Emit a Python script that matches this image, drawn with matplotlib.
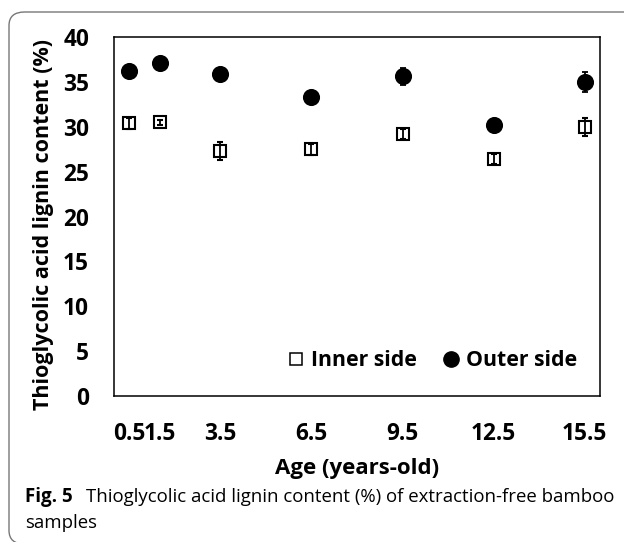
import numpy as np
import matplotlib.pyplot as plt
from matplotlib.patches import FancyBboxPatch
from matplotlib.lines import Line2D

# data
age = [0.5, 1.5, 3.5, 6.5, 9.5, 12.5, 15.5]
tick_labels = ['0.5', '1.5', '3.5', '6.5', '9.5', '12.5', '15.5']
inner = [30.4, 30.5, 27.3, 27.5, 29.2, 26.4, 30.0]
inner_err = [0.6, 0.3, 1.0, 0.6, 0.6, 0.6, 1.0]
outer = [36.2, 37.1, 35.9, 33.3, 35.6, 30.2, 35.0]
outer_err = [0.4, 0.6, 0.4, 0.4, 1.0, 0.4, 1.1]

plt.rcParams['font.family'] = ['Open Sans', 'DejaVu Sans']

W, H = 624, 542
fig = plt.figure(figsize=(W / 100, H / 100), dpi=100)

# rounded frame round the figure + caption
frame = FancyBboxPatch((9 / W, -2 / H), 1.2, (H - 10) / H,
                       boxstyle='round,pad=0,rounding_size=0.025',
                       transform=fig.transFigure, fill=False, edgecolor='#777777', lw=1.0)
fig.patches.append(frame)

ax = fig.add_axes([114 / W, 1 - 396 / H, 486 / W, 359 / H])

# hollow squares: the error bar shows through, as in the original
ax.errorbar(age, inner, yerr=inner_err, fmt='s', ms=8.5, mfc='none', mec='black', mew=1.5,
            ecolor='black', elinewidth=1.3, capsize=2.5, capthick=1.3)
ax.errorbar(age, outer, yerr=outer_err, fmt='o', ms=11.3, color='black',
            ecolor='black', elinewidth=1.3, capsize=2.5, capthick=1.3)

ax.set_xlim(0, 16)
ax.set_ylim(0, 40)
ax.set_xticks(age)
ax.set_xticklabels(tick_labels)
ax.set_yticks(np.arange(0, 41, 5))
ax.tick_params(length=0, labelsize=16.3)
ax.tick_params(axis='y', pad=18)
ax.tick_params(axis='x', pad=18.5)
for lab in ax.get_xticklabels() + ax.get_yticklabels():
    lab.set_fontweight('bold')
for s in ax.spines.values():
    s.set_linewidth(1.1)

ax.set_ylabel('Thioglycolic acid lignin content (%)', fontsize=15.5, fontweight='bold')
ax.yaxis.set_label_coords((54 - 114) / 486, (396 - 224) / 359)
ax.set_xlabel('Age (years-old)', fontsize=16, fontweight='bold', labelpad=9)

handles = [Line2D([], [], ls='none', marker='s', ms=8, mfc='white', mec='black', mew=1.1),
           Line2D([], [], ls='none', marker='o', ms=11, color='black')]
ax.legend(handles, ['Inner side', 'Outer side'], loc='center', ncol=2, frameon=False,
          handletextpad=0.3, columnspacing=1.2, handlelength=0.8, borderpad=0,
          prop={'size': 15.3, 'weight': 'bold'},
          bbox_to_anchor=((432 - 114) / 486, (396 - 361) / 359))

fig.text(25 / W, 1 - 497 / H, 'Fig. 5', fontsize=13.5, fontweight='bold', va='center')
fig.text(86 / W, 1 - 497 / H, 'Thioglycolic acid lignin content (%) of extraction-free bamboo',
         fontsize=13.4, va='center')
fig.text(25 / W, 1 - 523 / H, 'samples', fontsize=13.4, va='center')

fig.savefig('out.png', dpi=100)
